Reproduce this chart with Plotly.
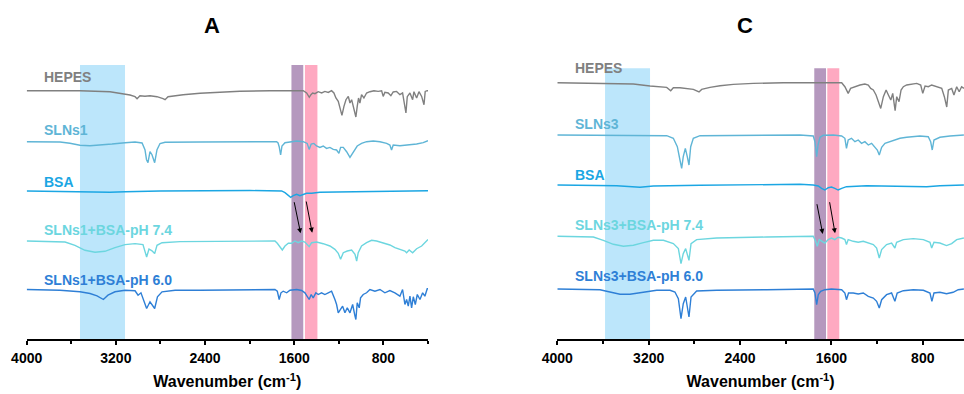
import plotly.graph_objects as go

# ---------------- data (wavenumber cm-1, relative transmittance deviation) ----------------
hepes_a = [(4000,0),(3522,0),(3253,-1),(3118,-3.5),(3073,-4.3),(3028,-6),(3010,-8),(2984,-5),(2939,-5.5),(2894,-5),
           (2831,-6),(2777,-8),(2759,-9),(2732,-6),(2669,-5),(2597,-4),(2445,-2.5),(2266,-1.3),(2087,-0.5),(1818,0),
           (1519,0),(1489,-2.3),(1465,-6.6),(1450,-4),(1435,-2.3),(1414,-3),(1385,-1),(1354,-2.3),(1325,-0.7),(1295,-1.7),
           (1265,0),(1244,-2.3),(1226,-7.3),(1205,-10.7),(1181,-22.3),(1172,-24.7),(1154,-15.7),(1136,-9),(1115,-5.7),
           (1100,-12.3),(1085,-9),(1071,-15.7),(1047,-26.3),(1035,-15.7),(1023,-7.3),(1011,-12.3),(996,-4),(975,-7.3),
           (951,-2.3),(921,-1),(885,0),(847,-0.7),(816,0),(802,-5.7),(787,-1.7),(757,-2.3),(733,-5),(712,-1.3),(682,-0.7),
           (652,-4),(628,-2.3),(598,-22.3),(586,-6),(562,-2.3),(538,-9),(526,-1),(502,-7.3),(481,-1),(457,-5.7),(436,-14),
           (425,-0.7),(407,0),(400,0)]
slns1_a = [(4000,0),(3701,-0.3),(3612,-1.5),(3522,-3.5),(3432,-4),(3343,-3.5),(3235,-2.3),(3118,-1),(3028,-0.3),(2965,-1.3),
           (2939,-8),(2925,-18),(2912,-21),(2894,-10),(2876,-13),(2852,-21),(2831,-8),(2804,-1.8),(2759,-0.5),(2445,-0.3),
           (1997,0),(1758,0),(1745,-1.3),(1735,-5),(1722,-13.3),(1710,-4.3),(1683,-1),(1638,-0.3),(1578,0.7),(1519,0),
           (1484,-1.7),(1466,-7.7),(1448,-2.3),(1424,-1.7),(1400,-4.3),(1370,-5.7),(1340,-4.3),(1310,-6.7),(1280,-5.7),
           (1250,-7.7),(1220,-8.3),(1199,-11.7),(1184,-5.7),(1160,-5.7),(1130,-10),(1100,-15.7),(1071,-10),(1035,-4.3),
           (996,-1.7),(951,0),(891,0.7),(831,0),(771,-1.7),(742,-3.3),(727,-8.3),(712,-3.3),(652,-4),(562,-3.3),(502,-2.3),
           (443,-1),(407,1),(400,1)]
bsa_a = [(4000,0),(3522,-0.7),(3253,-1.3),(3118,-0.7),(2804,0),(1997,0.5),(1727,0.5),(1713,0),(1683,-1.7),(1653,-4.7),
         (1632,-6.3),(1609,-4.7),(1578,-3.3),(1549,-4.7),(1519,-3.3),(1489,-2.3),(1444,-2.3),(1370,-1.3),(1220,-1),
         (921,-0.7),(622,-0.3),(407,0.3),(400,0.3)]
mix74_a = [(4000,0),(3656,-1),(3567,-4.3),(3477,-9.3),(3387,-11.3),(3298,-10.3),(3208,-6.6),(3118,-3.6),(3028,-2.6),
           (2957,-3.6),(2924,-16),(2903,-8),(2876,-9.8),(2852,-12.6),(2831,-4.3),(2786,-1.7),(2624,-0.6),(1997,0),(1773,0),
           (1752,-2.3),(1727,-6.7),(1707,-9),(1683,-5),(1653,-2.3),(1623,-2.3),(1594,0),(1564,-1.7),(1534,0),(1504,-1),
           (1466,-5.7),(1444,-1.7),(1400,-1),(1340,-2.7),(1280,-5),(1235,-8.3),(1205,-12.3),(1184,-18.3),(1160,-11.7),
           (1124,-10),(1085,-9),(1055,-13.3),(1040,-20),(1026,-11.7),(996,-5),(951,-1.7),(906,0.7),(861,0),(802,-1.7),
           (742,-4),(697,-6.7),(652,-8.3),(607,-10),(592,-11.7),(569,-9),(538,-11.7),(502,-7.7),(457,-5),(428,-1.7),
           (407,1),(400,1.5)]
mix60_a = [(4000,0),(3701,-0.7),(3522,-2.3),(3432,-4),(3369,-6.3),(3312,-10),(3271,-5.7),(3208,-2.3),(3118,-0.7),
           (3028,-1.3),(3001,-5.7),(2975,-3.3),(2924,-19),(2894,-12.3),(2852,-19),(2827,-7.3),(2786,-2.3),(2669,-0.7),
           (2445,-0.7),(1997,0),(1773,0),(1752,-1.7),(1735,-10),(1719,-3.3),(1699,-1.7),(1668,-3.3),(1638,-0.7),(1578,0),
           (1534,-1),(1504,-3.3),(1484,-7.3),(1466,-10),(1448,-5),(1430,-8.3),(1406,-3.3),(1385,-5),(1355,-3.3),(1325,-5),
           (1295,-3.3),(1265,-1.7),(1235,-10),(1220,-15),(1205,-23.3),(1184,-20),(1166,-16.7),(1145,-23.3),(1124,-18.3),
           (1100,-23.3),(1076,-15),(1055,-26.7),(1047,-30),(1035,-13.3),(1017,-18.3),(1005,-8.3),(981,-5),(951,-3.3),
           (921,0),(876,-1.7),(831,0),(787,-3.3),(742,-1),(697,-3.3),(652,-6.7),(628,0),(607,-15),(592,-10),(577,-16.7),
           (562,-6.7),(547,-18.3),(532,-7.3),(514,-15),(496,-5),(472,-10),(448,-3.3),(428,-6.7),(407,0.7),(400,0.7)]

hepes_c = [(4000,0),(3582,-0.7),(3334,-1.3),(3188,-3.3),(3101,-4),(3042,-4.7),(3007,-8),(2984,-5),(2926,-5),(2867,-5.7),
           (2809,-6.7),(2759,-9.3),(2736,-6.7),(2663,-4.7),(2575,-3),(2459,-1.7),(2284,-0.7),(2021,0),(1876,0),(1510,0),
           (1482,-4),(1453,-10.7),(1432,-5.7),(1394,-4),(1350,-2.3),(1307,-1.3),(1277,-2.3),(1256,-5.7),(1233,-7.3),
           (1209,-12.3),(1189,-19),(1168,-25.7),(1145,-14),(1121,-7.3),(1101,-12.3),(1080,-17.3),(1063,-10.7),(1042,-28),
           (1028,-14),(1008,-19),(990,-7.3),(970,-4),(941,-2.3),(897,-1.3),(853,-0.7),(818,-2.3),(800,-10.7),(780,-3.3),
           (751,-4),(722,-2.3),(678,-4),(634,-5.7),(611,-14),(590,-24.3),(576,-7.3),(547,-5.7),(527,-12.3),(503,-4),
           (481,-9),(460,-4),(440,-5.7)]
slns3_c = [(4000,0),(3626,0),(3334,-0.7),(3042,-0.7),(2984,-3.3),(2949,-11.7),(2926,-25),(2911,-33.3),(2897,-21.7),
           (2879,-13.3),(2862,-21.7),(2847,-30),(2832,-11.7),(2809,-3.3),(2750,-0.7),(2459,-0.3),(1876,0),(1759,-1),
           (1744,-6.7),(1735,-15),(1729,-21.7),(1717,-10),(1700,-2.3),(1671,-0.3),(1583,0),(1510,-1),(1482,-3.3),
           (1468,-13.3),(1453,-5),(1424,-3.3),(1394,-6.7),(1365,-5),(1336,-8.3),(1307,-6.7),(1277,-10),(1248,-8.3),
           (1219,-11.7),(1198,-15),(1181,-20),(1160,-12.3),(1131,-8.3),(1087,-6.7),(1044,-5),(1000,-3.3),(941,-2.3),
           (883,-1.7),(825,-1),(752,-1.7),(731,-6.7),(717,-15),(702,-5),(650,-2.3),(562,-1),(440,0)]
bsa_c = [(4000,0),(3480,-0.7),(3276,-2.3),(3159,-1),(2750,-0.3),(2166,0.7),(1876,0.7),(1759,0),(1715,-1),(1686,-3.3),
         (1657,-5),(1628,-2.7),(1599,-2),(1570,-3.3),(1541,-5),(1510,-3.3),(1468,-1.7),(1292,-0.7),(1000,-1),(766,-1.7),
         (650,-0.7),(440,0)]
mix74_c = [(4000,0),(3684,-0.7),(3597,-4),(3509,-8),(3421,-10),(3334,-9),(3246,-6.3),(3159,-4),(3071,-4),(2984,-7.3),
           (2940,-12.3),(2917,-27.3),(2897,-17.3),(2876,-12.3),(2847,-24),(2829,-7.3),(2780,-3.3),(2605,-1.7),(2166,-0.7),
           (1759,0),(1738,-5),(1724,-10),(1706,-3.3),(1686,-5),(1657,-6.7),(1628,-3.3),(1599,-1.7),(1570,-3.3),(1541,-1),
           (1510,-1.7),(1482,-3.3),(1468,-8.3),(1453,-3.3),(1409,-5),(1365,-6),(1321,-5),(1277,-6.7),(1233,-8.3),
           (1204,-11.7),(1181,-21.7),(1160,-13.3),(1117,-8.3),(1073,-6.7),(1044,-11.7),(1029,-6),(970,-3.3),(883,-2.3),
           (795,-3.3),(737,-6),(722,-11.7),(702,-6),(650,-6.7),(592,-9.3),(547,-7.3),(503,-3.3),(440,-1.7)]
mix60_c = [(4000,0),(3626,-0.7),(3539,-3),(3451,-5.3),(3364,-5.3),(3246,-3),(3130,-1.3),(3013,-1.3),(2970,-3),(2940,-9.7),
           (2917,-29.7),(2897,-14.7),(2876,-8),(2847,-28),(2829,-8),(2780,-2),(2605,-1.3),(2166,-0.7),(1759,0),(1744,-4),
           (1729,-15.7),(1715,-5.7),(1694,-2.3),(1657,-0.7),(1599,0),(1510,-0.7),(1482,-4),(1468,-10.7),(1450,-4),
           (1409,-4),(1365,-5),(1321,-4),(1277,-7.3),(1233,-9),(1204,-12.3),(1181,-19),(1160,-10.7),(1117,-5.7),
           (1073,-4),(1044,-12.3),(1024,-4),(970,-1.7),(883,-0.7),(795,-1.3),(737,-4),(720,-12.3),(702,-4),(650,-3.3),
           (592,-4.7),(534,-3.3),(490,-0.7),(440,0)]

labels_a = ["HEPES", "SLNs1", "BSA", "SLNs1+BSA-pH 7.4", "SLNs1+BSA-pH 6.0"]
labels_c = ["HEPES", "SLNs3", "BSA", "SLNs3+BSA-pH 7.4", "SLNs3+BSA-pH 6.0"]
offsets_a = [248.6, 197.6, 148.3, 98.3, 49.8]
offsets_c = [256.6, 204.3, 154.3, 103.0, 50.3]
label_y_a = [262.6, 209.3, 157.6, 109.3, 59.3]
label_y_c = [271.3, 215.3, 164.3, 114.3, 63.3]
colors = ["#808080", "#5fb5d6", "#1ba6e3", "#6cd6df", "#2e7fd6"]

# highlighted regions (cm-1)
blue_a, purple_a, pink_a = (3522, 3118), (1625, 1519), (1504, 1392)
blue_c, purple_c, pink_c = (3582, 3188), (1750, 1647), (1636, 1531)
# arrows (tail wn, tail y, head wn, head y)
arrows_a = [(1603, 138.6, 1543, 106.0), (1495, 139.3, 1439, 106.6)]
arrows_c = [(1729, 136.6, 1676, 105.3), (1618, 138.6, 1568, 106.0)]

ticks = [4000, 3200, 2400, 1600, 800]

# ---------------- figure ----------------
W, H = 964, 394
FONT = "Arial, Liberation Sans, sans-serif"
fig = go.Figure()

panels = [
    ("x", "y", [hepes_a, slns1_a, bsa_a, mix74_a, mix60_a], offsets_a),
    ("x2", "y2", [hepes_c, slns3_c, bsa_c, mix74_c, mix60_c], offsets_c),
]
for xa, ya, series, offs in panels:
    for s, off, col in zip(series, offs, colors):
        fig.add_trace(go.Scatter(
            x=[p[0] for p in s], y=[p[1] + off for p in s], mode="lines",
            line=dict(color=col, width=1.4), xaxis=xa, yaxis=ya,
            showlegend=False, hoverinfo="skip"))

shapes = []
def band(xref, yref, rng, color, top=1.0):
    shapes.append(dict(type="rect", xref=xref, yref=yref + " domain", x0=rng[0], x1=rng[1],
                       y0=0, y1=top, fillcolor=color, line=dict(width=0), layer="below"))
band("x", "y", blue_a, "#bce6fb")
band("x", "y", purple_a, "#b598be")
band("x", "y", pink_a, "#fea9c1")
band("x2", "y2", blue_c, "#bce6fb", 0.988)
band("x2", "y2", purple_c, "#b598be", 0.988)
band("x2", "y2", pink_c, "#fea9c1", 0.988)

annotations = []
for xr, yr, labs, ly in [("x", "y", labels_a, label_y_a), ("x2", "y2", labels_c, label_y_c)]:
    for t, yv, col in zip(labs, ly, colors):
        annotations.append(dict(x=3865, y=yv, xref=xr, yref=yr, text=t, showarrow=False,
                                xanchor="left", yanchor="middle",
                                font=dict(family=FONT, size=14, color=col, weight="bold")))
for xr, yr, arr in [("x", "y", arrows_a), ("x2", "y2", arrows_c)]:
    for (tx, ty, hx, hy) in arr:
        annotations.append(dict(x=hx, y=hy, ax=tx, ay=ty, xref=xr, yref=yr, axref=xr, ayref=yr,
                                showarrow=True, arrowhead=2, arrowsize=1, arrowwidth=1,
                                arrowcolor="black", text=""))
for txt, xp in [("A", 212 / W), ("C", 745 / W)]:
    annotations.append(dict(x=xp, y=(H - 25) / H, xref="paper", yref="paper", text=txt,
                            showarrow=False, xanchor="center", yanchor="middle",
                            font=dict(family=FONT, size=22, color="black", weight="bold")))

ydom = [(H - 339.3) / H, (H - 65) / H]
xcommon = dict(
    showline=True, linecolor="black", linewidth=2, ticks="outside", ticklen=4, tickwidth=1.5,
    tickcolor="black", tickvals=ticks, ticktext=[str(t) for t in ticks], showgrid=False, zeroline=False,
    automargin=False, ticklabelstandoff=1,
    tickfont=dict(family=FONT, size=14, color="black", weight="bold"),
    minor=dict(dtick=400, tick0=0, ticks="outside", ticklen=3, tickwidth=1.5, tickcolor="black", showgrid=False),
    title=dict(text="Wavenumber (cm<sup>-1</sup>)",
               font=dict(family=FONT, size=16, color="black", weight="bold"), standoff=11),
)
xa1 = dict(xcommon); xa1.update(domain=[26.7 / W, 428 / W], range=[4000, 400], anchor="y")
xa2 = dict(xcommon); xa2.update(domain=[557.3 / W, 1.0], range=[4000, 439], anchor="y2")
yax = dict(visible=False, range=[0, 274.3], domain=ydom, fixedrange=True, automargin=False)

fig.update_layout(
    template="none",
    width=W, height=H, margin=dict(l=0, r=0, t=0, b=0, autoexpand=False),
    paper_bgcolor="white", plot_bgcolor="white",
    xaxis=xa1, xaxis2=xa2,
    yaxis=dict(yax, anchor="x"), yaxis2=dict(yax, anchor="x2"),
    shapes=shapes, annotations=annotations, showlegend=False,
)
fig.write_html("out.html")
